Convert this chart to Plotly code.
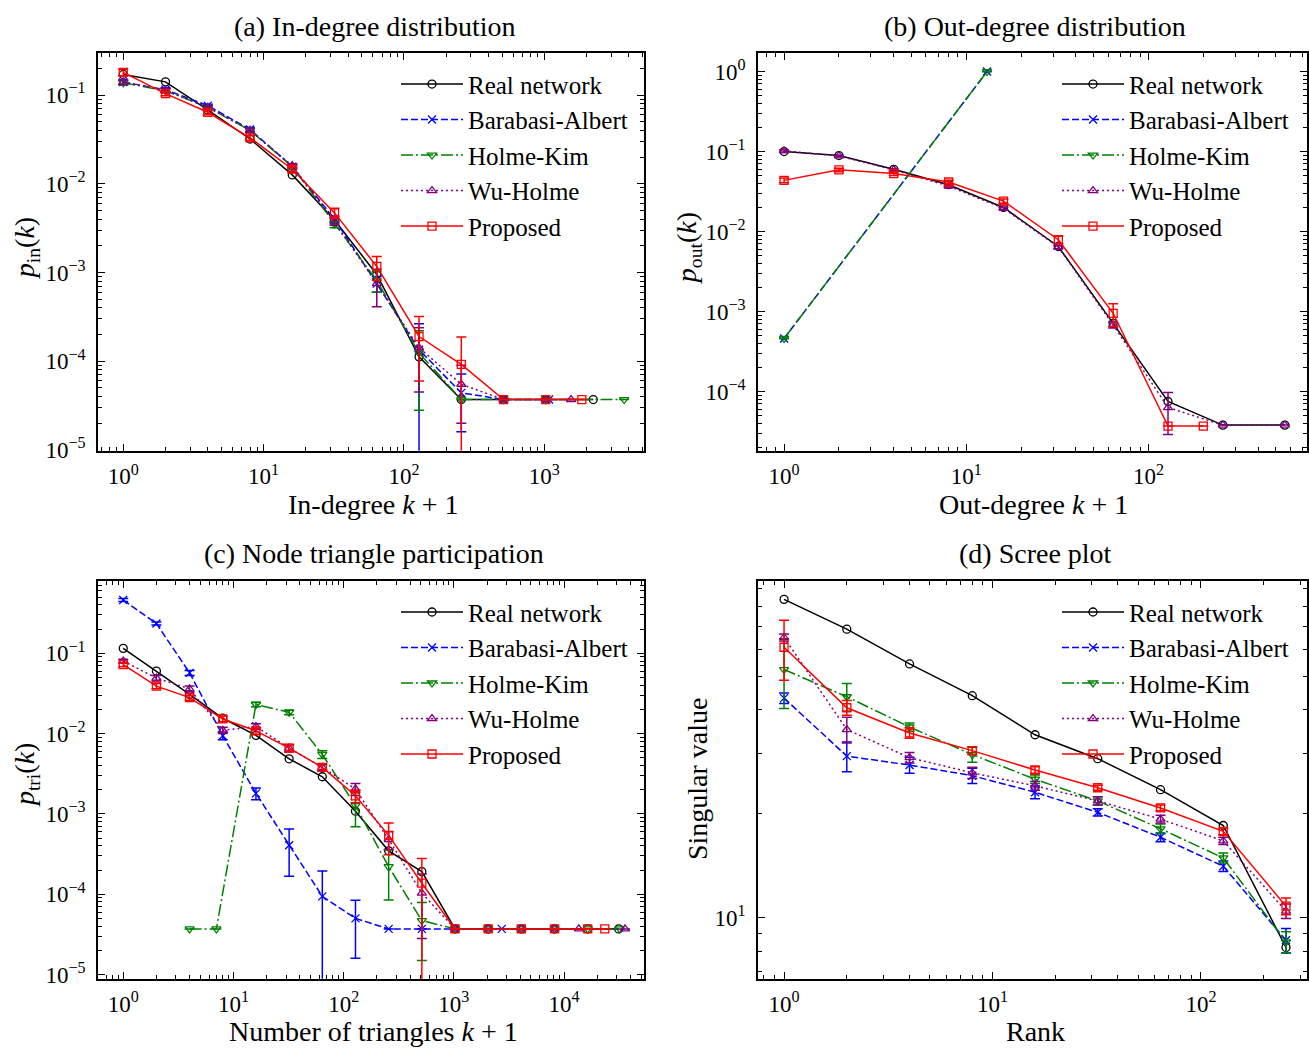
import numpy as np
import plotly.graph_objects as go

FONT = "Liberation Serif"
W, H = 1309, 1060

NAMES = ["Real network", "Barabasi-Albert", "Holme-Kim", "Wu-Holme", "Proposed"]
COLORS = ["#000000", "#0000ff", "#008000", "#800080", "#ff0000"]
DASHES = ["solid", "7px,3px", "12px,3px,2px,3px", "2px,3px", "solid"]
SYMBOLS = ["circle-open", "x-thin-open", "triangle-down-open", "triangle-up-open", "square-open"]

# ---------------- (a) In-degree distribution ----------------
a_x_real = [1, 2, 4, 8, 16, 32, 64, 128, 256, 512, 1024, 2230]
a_y_real = [0.171, 0.141, 0.068, 0.032, 0.0126, 0.0039, 0.00095, 1.12e-4, 3.7e-5, 3.7e-5, 3.7e-5, 3.7e-5]

a_x_ba = [1, 2, 4, 8, 16, 32, 64, 128, 256, 512, 1080]
a_y_ba = [0.14, 0.115, 0.076, 0.041, 0.0156, 0.0040, 7.5e-4, 1.35e-4, 4.4e-5, 3.7e-5, 3.7e-5]
a_e_ba = [0.008, 0.006, 0.003, 0.002, 0.0008, 0.0003, 1.5e-4, 1.3e-4, 2.8e-5, 0, 0]

a_x_hk = [1, 2, 4, 8, 16, 32, 64, 128, 256, 512, 1024, 3700]
a_y_hk = [0.138, 0.112, 0.073, 0.040, 0.0156, 0.0035, 8.1e-4, 1.24e-4, 3.7e-5, 3.7e-5, 3.7e-5, 3.7e-5]
a_e_hk = [0.008, 0.006, 0.003, 0.002, 0.0008, 0.0003, 2.1e-4, 0.96e-4, 0, 0, 0, 0]

a_x_wh = [1, 2, 4, 8, 16, 32, 64, 128, 256, 512, 1024, 1550]
a_y_wh = [0.14, 0.113, 0.073, 0.040, 0.016, 0.0037, 7.5e-4, 1.42e-4, 5.5e-5, 3.7e-5, 3.7e-5, 3.7e-5]
a_e_wh = [0.008, 0.006, 0.003, 0.002, 0.0008, 0.0003, 3.4e-4, 0.97e-4, 3.5e-5, 0, 0, 0]

a_x_pr = [1, 2, 4, 8, 16, 32, 64, 128, 256, 512, 1024, 1850]
a_y_pr = [0.18, 0.104, 0.064, 0.033, 0.0146, 0.0047, 1.17e-3, 1.9e-4, 9.2e-5, 3.7e-5, 3.7e-5, 3.7e-5]
a_e_pr = [0.015, 0.006, 0.004, 0.002, 0.0012, 0.0006, 3.5e-4, 1.3e-4, 9.5e-5, 0, 0, 0]

# ---------------- (b) Out-degree distribution ----------------
b_x_real = [1, 2, 4, 8, 16, 32, 64, 128, 256, 560]
b_y_real = [0.100, 0.089, 0.060, 0.0385, 0.020, 0.0065, 7.1e-4, 7.5e-5, 3.8e-5, 3.8e-5]

b_x_ba = [1, 13]
b_y_ba = [4.6e-4, 0.9995]
b_e_ba = [0, 0]

b_x_hk = [1, 13]
b_y_hk = [4.6e-4, 0.9995]
b_e_hk = [0, 0]

b_x_wh = [1, 2, 4, 8, 16, 32, 64, 128, 256, 560]
b_y_wh = [0.102, 0.088, 0.059, 0.037, 0.0195, 0.0064, 6.8e-4, 6.3e-5, 3.8e-5, 3.8e-5]
b_e_wh = [0.003, 0.002, 0.0015, 0.001, 0.0006, 0.0003, 6e-5, 3.4e-5, 0, 0]

b_x_pr = [1, 2, 4, 8, 16, 32, 64, 128, 200]
b_y_pr = [0.0436, 0.059, 0.053, 0.0416, 0.024, 0.0079, 9.5e-4, 3.7e-5, 3.7e-5]
b_e_pr = [0.003, 0.003, 0.003, 0.002, 0.0015, 0.0008, 3e-4, 0, 0]

# ---------------- (c) Node triangle participation ----------------
c_x_real = [1, 2, 4, 8, 16, 32, 64, 128, 256, 512, 1024, 2048, 4096, 8192, 16384, 31300]
c_y_real = [0.115, 0.060, 0.0307, 0.0155, 0.0095, 0.00485, 0.0029, 1.08e-3, 3.47e-4, 1.91e-4,
            3.7e-5, 3.7e-5, 3.7e-5, 3.7e-5, 3.7e-5, 3.7e-5]

c_x_ba = [1, 2, 4, 8, 16, 32, 64, 128, 256, 512, 1024, 2720]
c_y_ba = [0.46, 0.234, 0.057, 0.0094, 0.0018, 4.07e-4, 9.4e-5, 5e-5, 3.7e-5, 3.7e-5, 3.7e-5, 3.7e-5]
c_e_ba = [0.02, 0.01, 0.004, 0.001, 0.0003, 2.4e-4, 1.0e-4, 3.4e-5, 0, 0, 0, 0]

c_x_hk = [4, 7, 16, 32, 64, 128, 256, 512, 1024, 2048, 4096, 8192, 16384, 32000]
c_y_hk = [3.7e-5, 3.7e-5, 0.023, 0.0184, 0.0055, 1.27e-3, 2.2e-4, 4.7e-5,
          3.7e-5, 3.7e-5, 3.7e-5, 3.7e-5, 3.7e-5, 3.7e-5]
c_e_hk = [0, 0, 0.0015, 0.0012, 0.0006, 5.8e-4, 1.35e-4, 3.2e-5, 0, 0, 0, 0, 0, 0]

c_x_wh = [1, 2, 4, 8, 16, 32, 64, 128, 256, 512, 1024, 2048, 4096, 8192, 13600, 35700]
c_y_wh = [0.08, 0.049, 0.036, 0.011, 0.0122, 0.0066, 0.0038, 0.00204, 4.8e-4, 1.03e-4,
          3.7e-5, 3.7e-5, 3.7e-5, 3.7e-5, 3.7e-5, 3.7e-5]
c_e_wh = [0.004, 0.004, 0.003, 0.001, 0.001, 0.0006, 0.0003, 3.5e-4, 1.2e-4, 7.5e-5,
          0, 0, 0, 0, 0, 0]

c_x_pr = [1, 2, 4, 8, 16, 32, 64, 128, 256, 512, 1024, 2048, 4096, 8192, 16384, 23400]
c_y_pr = [0.072, 0.039, 0.028, 0.0152, 0.0108, 0.0066, 0.0038, 0.00168, 5.4e-4, 1.37e-4,
          3.7e-5, 3.7e-5, 3.7e-5, 3.7e-5, 3.7e-5, 3.7e-5]
c_e_pr = [0.004, 0.003, 0.002, 0.0012, 0.001, 0.0007, 0.0004, 3e-4, 2.3e-4, 1.42e-4,
          0, 0, 0, 0, 0, 0]

# ---------------- (d) Scree plot ----------------
d_x = [1, 2, 4, 8, 16, 32, 64, 128, 256]
d_y_real = [83.7, 68.6, 54.4, 44.0, 33.9, 28.9, 23.5, 18.5, 8.2]
d_y_ba = [43.3, 29.4, 27.7, 25.8, 23.1, 20.2, 17.1, 14.1, 8.6]
d_e_ba = [1.5, 2.9, 1.5, 1.3, 1.0, 0.5, 0.5, 0.5, 0.7]
d_y_hk = [52.4, 43.7, 35.7, 29.7, 25.2, 21.8, 18.1, 14.9, 8.5]
d_e_hk = [12, 4, 1, 1.5, 0.7, 0.6, 0.6, 0.5, 0.6]
d_y_wh = [64.9, 35.1, 29.1, 26.3, 24.1, 21.8, 19.3, 16.7, 10.45]
d_e_wh = [1.5, 3, 1, 1, 0.7, 0.6, 0.5, 0.4, 0.5]
d_y_pr = [60.8, 40.6, 34.3, 30.5, 26.8, 23.8, 20.8, 17.8, 10.8]
d_e_pr = [12, 2, 1.2, 0.8, 0.6, 0.4, 0.4, 0.4, 0.6]

panels = [
    ("x", "y", "legend", [(a_x_real, a_y_real, None), (a_x_ba, a_y_ba, a_e_ba), (a_x_hk, a_y_hk, a_e_hk),
                          (a_x_wh, a_y_wh, a_e_wh), (a_x_pr, a_y_pr, a_e_pr)]),
    ("x2", "y2", "legend2", [(b_x_real, b_y_real, None), (b_x_ba, b_y_ba, b_e_ba), (b_x_hk, b_y_hk, b_e_hk),
                             (b_x_wh, b_y_wh, b_e_wh), (b_x_pr, b_y_pr, b_e_pr)]),
    ("x3", "y3", "legend3", [(c_x_real, c_y_real, None), (c_x_ba, c_y_ba, c_e_ba), (c_x_hk, c_y_hk, c_e_hk),
                             (c_x_wh, c_y_wh, c_e_wh), (c_x_pr, c_y_pr, c_e_pr)]),
    ("x4", "y4", "legend4", [(d_x, d_y_real, None), (d_x, d_y_ba, d_e_ba), (d_x, d_y_hk, d_e_hk),
                             (d_x, d_y_wh, d_e_wh), (d_x, d_y_pr, d_e_pr)]),
]

fig = go.Figure()
for pi, (xa, ya, lg, series) in enumerate(panels):
    for si, (xs, ys, es) in enumerate(series):
        err = dict(type="data", array=es, visible=True, color=COLORS[si],
                   thickness=1.5, width=5) if es is not None else dict(visible=False)
        fig.add_trace(go.Scatter(
            x=xs, y=ys, mode="lines+markers", name=NAMES[si],
            line=dict(color=COLORS[si], width=1.5, dash=DASHES[si]),
            marker=dict(symbol=SYMBOLS[si], size=8, color=COLORS[si],
                        line=dict(color=COLORS[si], width=1.3)),
            error_y=err, xaxis=xa, yaxis=ya, legend=lg,
            legendgroup=f"p{pi}s{si}", showlegend=True))


def minor_vals(lo, hi):
    v = []
    for d in range(lo, hi + 1):
        for m in range(2, 10):
            v.append(m * 10.0 ** d)
    return v


def sup(e):
    s = str(e).replace("-", "\u2212")
    return f"10<sup>{s}</sup>"


def log_axis(domain, rng, exps, anchor, minor_lo, minor_hi, standoff):
    return dict(
        type="log", domain=domain, range=rng, anchor=anchor,
        showline=True, linecolor="black", linewidth=1.5, mirror="ticks",
        ticks="inside", ticklen=7, tickwidth=1.2, tickcolor="black",
        tickmode="array", tickvals=[10.0 ** e for e in exps], ticktext=[sup(e) for e in exps],
        tickfont=dict(family=FONT, size=23, color="black"), ticklabelstandoff=standoff,
        minor=dict(ticks="inside", ticklen=4, tickwidth=1, tickcolor="black",
                   tickmode="array", tickvals=minor_vals(minor_lo, minor_hi), showgrid=False),
        showgrid=False, zeroline=False,
    )


XL = [98 / W, 644 / W]
XR = [758 / W, 1307 / W]
YT = [1 - 456 / H, 1 - 54 / H]
YB = [1 - 990 / H, 1 - 588 / H]

fig.update_layout(
    width=W, height=H, margin=dict(l=0, r=0, t=0, b=0),
    paper_bgcolor="white", plot_bgcolor="white",
    font=dict(family=FONT, color="black"),
    xaxis=log_axis(XL, [-0.18, 3.71], [0, 1, 2, 3], "y", -1, 4, 4),
    yaxis=log_axis(YT, [-5.01, -0.53], [-5, -4, -3, -2, -1], "x", -6, 0, 6),
    xaxis2=log_axis(XR, [-0.143, 2.87], [0, 1, 2], "y2", -1, 3, 4),
    yaxis2=log_axis(YT, [-4.742, 0.227], [-4, -3, -2, -1, 0], "x2", -5, 1, 6),
    xaxis3=log_axis(XL, [-0.229, 4.725], [0, 1, 2, 3, 4], "y3", -1, 5, 4),
    yaxis3=log_axis(YB, [-5.053, -0.105], [-5, -4, -3, -2, -1], "x3", -6, 0, 6),
    xaxis4=log_axis(XR, [-0.125, 2.509], [0, 1, 2], "y4", -1, 3, 4),
    yaxis4=log_axis(YB, [np.log10(6.65), np.log10(94.4)], [1], "x4", 0, 1, 6),
)

leg_common = dict(bgcolor="rgba(0,0,0,0)", borderwidth=0, xanchor="left", yanchor="top",
                  font=dict(family=FONT, size=25, color="black"), tracegroupgap=0,
                  itemwidth=62)
fig.update_layout(
    legend=dict(x=396 / W, y=1 - 62 / H, **leg_common),
    legend2=dict(x=1057 / W, y=1 - 62 / H, **leg_common),
    legend3=dict(x=396 / W, y=1 - 596 / H, **leg_common),
    legend4=dict(x=1057 / W, y=1 - 596 / H, **leg_common),
)

ann = []


def txt(x, y, s, size, angle=0):
    ann.append(dict(x=x / W, y=1 - y / H, xref="paper", yref="paper", text=s, showarrow=False,
                    xanchor="center", yanchor="middle", textangle=angle,
                    font=dict(family=FONT, size=size, color="black")))


txt(374, 27, "(a) In-degree distribution", 28)
txt(1035, 27, "(b) Out-degree distribution", 28)
txt(374, 560, "(c) Node triangle participation", 28)
txt(1035, 560, "(d) Scree plot", 28)
txt(373, 510, "In-degree <i>k</i> + 1", 28)
txt(1033, 510, "Out-degree <i>k</i> + 1", 28)
txt(373, 1043, "Number of triangles <i>k</i> + 1", 28)
txt(1035, 1043, "Rank", 28)
txt(26, 251, "<i>p</i><sub>in</sub>(<i>k</i>)", 28, -90)
txt(688, 251, "<i>p</i><sub>out</sub>(<i>k</i>)", 28, -90)
txt(26, 784, "<i>p</i><sub>tri</sub>(<i>k</i>)", 28, -90)
txt(697, 787, "Singular value", 28, -90)
fig.update_layout(annotations=ann)

POST = (
    "document.documentElement.style.margin='0px';"
    "document.body.style.margin='0px';"
    "document.documentElement.style.overflow='hidden';"
    "document.body.style.overflow='hidden';"
    "var gd=document.getElementById('{plot_id}');"
    "gd.style.overflow='hidden';"
    "if(gd.parentElement){gd.parentElement.style.overflow='hidden';"
    "gd.parentElement.style.height='1060px';gd.parentElement.style.width='1309px';}"
)
fig.write_html("out.html", config={"displayModeBar": False}, post_script=POST)
